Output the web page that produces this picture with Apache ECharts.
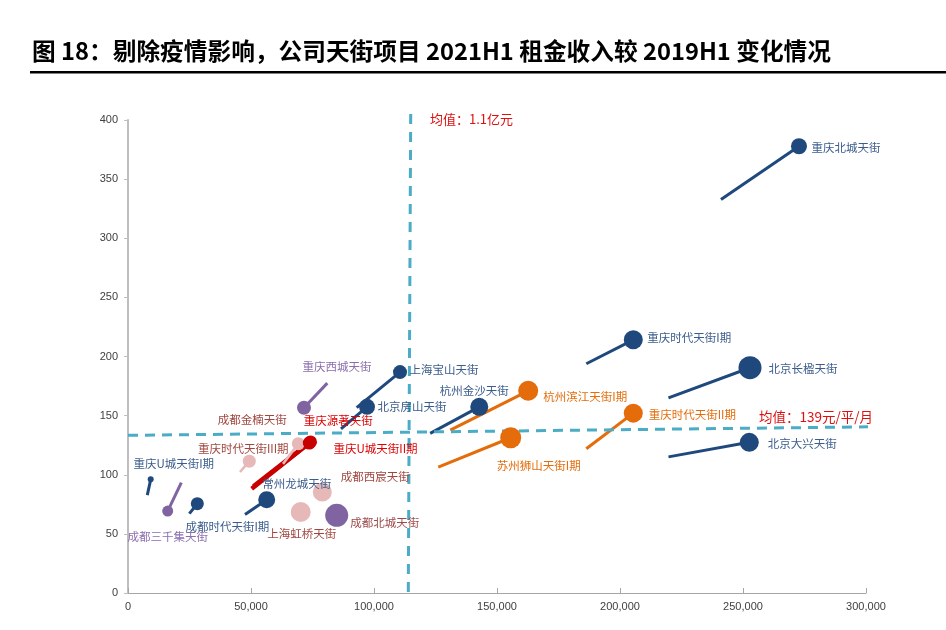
<!DOCTYPE html>
<html><head><meta charset="utf-8">
<script src="https://cdn.jsdelivr.net/npm/echarts/dist/echarts.min.js"></script>
<style>html,body{margin:0;padding:0;background:#fff}#c{width:946px;height:630px}</style>
</head><body><div id="c"></div>
<script>
// ---------- data ----------
const titleText = '图 18：剔除疫情影响，公司天街项目 2021H1 租金收入较 2019H1 变化情况';
const projects = ['重庆北城天街','重庆时代天街I期','北京长楹天街','北京大兴天街','重庆时代天街II期','杭州滨江天街I期','苏州狮山天街I期','杭州金沙天街','上海宝山天街','北京房山天街','重庆西城天街','重庆源著天街','重庆U城天街II期','成都金楠天街','重庆时代天街III期','重庆U城天街I期','成都三千集天街','成都时代天街I期','常州龙城天街','成都西宸天街','上海虹桥天街','成都北城天街'];
const group    = ['blue','blue','blue','blue','orange','orange','orange','blue','blue','blue','purple','red','red','pink','pink','blue','purple','blue','blue','pink','pink','purple'];
// 2021H1 (bubble end)
const rev2021  = [272760,205400,252850,252560,205400,162680,155570,142800,110570,97150,71540,73700,74190,69230,49310,9230,16140,28180,56380,78980,70200,84840];
const rent2021 = [377.8,214.1,190.5,127.4,152.1,171.0,131.3,157.4,186.8,157.4,156.7,126.8,127.8,126.3,111.5,96.1,69.3,75.5,78.9,85.4,68.5,65.7];
// 2019H1 (line tail)
const rev2019  = [241050,186300,219700,219700,186300,131000,126130,122840,92960,86580,81010,50280,51020,63010,45530,7850,21670,24930,47560,null,null,null];
const rent2019 = [332.7,193.9,165.0,115.1,122.0,137.7,106.5,135.0,156.7,138.8,177.5,88.2,90.2,109.2,102.3,82.8,93.3,67.1,66.3,null,null,null];
// bubble scale value
const scaleVal = [16,19,23,19,19,20,21,18,14,16,14,13,13,13,13,6,11,13,17,19,20,23];
// draw order of bubbles (pink behind red in the cluster)
const bubbleOrder = [0,1,2,3,4,5,6,7,8,9,10,13,11,12,14,15,16,17,18,19,20,21];
// mean reference lines
const meanRevX = [114920,113940], meanRevY = [405,0];
const meanRentX = [0,309350],     meanRentY = [133.3,140.7];
const meanRevText = '均值：1.1亿元';
const meanRentText = '均值：139元/平/月';

// ---------- style ----------
const groupStyle = {
  blue:   {fill:'#1f497d', line:'#1f497d', label:'#3b5c8c', w:3},
  orange: {fill:'#e46c0a', line:'#e46c0a', label:'#e46c0a', w:3},
  purple: {fill:'#8064a2', line:'#8064a2', label:'#8a6eae', w:3},
  pink:   {fill:'#e6b9b8', line:'#e6b9b8', label:'#a0463f', w:2.5},
  red:    {fill:'#c80000', line:'#c80000', label:'#dd0000', w:4.5}
};
const labelColorOverride = {'成都北城天街':'#9c4a4a'};
const labelOffset = {
  '重庆北城天街':[47,1],'重庆时代天街I期':[56,-2],'北京长楹天街':[53,1],'北京大兴天街':[53,1],
  '重庆时代天街II期':[59,1],'杭州滨江天街I期':[57,6],'苏州狮山天街I期':[28,28],'杭州金沙天街':[-5,-16],
  '上海宝山天街':[44,-2],'北京房山天街':[45,0],'重庆西城天街':[33,-41],'成都金楠天街':[-46,-24],
  '重庆源著天街':[29,-22],'重庆U城天街II期':[65,7],'重庆时代天街III期':[-6,-13],'重庆U城天街I期':[23,-16],
  '成都三千集天街':[0,26],'成都时代天街I期':[30,23],'常州龙城天街':[30,-16],'成都西宸天街':[53,-15],
  '上海虹桥天街':[1,22],'成都北城天街':[48,7]
};
const cjk = '"Noto Sans CJK SC", "Microsoft YaHei", sans-serif';

const lineData = [];
projects.forEach((n,i)=>{
  if (rev2019[i] == null) return;
  const s = groupStyle[group[i]];
  lineData.push({coords:[[rev2019[i],rent2019[i]],[rev2021[i],rent2021[i]]], lineStyle:{color:s.line,width:s.w,opacity:1}});
});
const bubbleData = bubbleOrder.map(i=>{
  const n = projects[i];
  const s = groupStyle[group[i]];
  const d = scaleVal[i], o = labelOffset[n];
  return {
    name:n, value:[rev2021[i],rent2021[i],scaleVal[i]],
    symbolSize: d,
    itemStyle:{color:s.fill, opacity:1},
    label:{show:true, position:[d/2+o[0], d/2+o[1]], align:'center', verticalAlign:'middle', formatter:'{b}',
      color: labelColorOverride[n] || s.label, fontSize:11.5, fontFamily:cjk}
  };
});

const chart = echarts.init(document.getElementById('c'), null, {renderer:'canvas'});
chart.setOption({
  animation:false,
  backgroundColor:'#fff',
  grid:{left:128, right:80, top:120, bottom:37, containLabel:false},
  xAxis:{type:'value', min:0, max:300000, interval:50000,
    axisLine:{show:true, lineStyle:{color:'#a6a6a6', width:1}},
    axisTick:{show:true, inside:true, length:5, lineStyle:{color:'#a6a6a6'}},
    splitLine:{show:false},
    axisLabel:{fontSize:11, color:'#404040', margin:8, fontFamily:'"Liberation Sans", Arial, sans-serif',
      formatter:v=>v.toLocaleString('en-US')}},
  yAxis:{type:'value', min:0, max:400, interval:50,
    axisLine:{show:true, lineStyle:{color:'#bfbfbf', width:2}},
    axisTick:{show:true, inside:false, length:4, lineStyle:{color:'#bfbfbf'}},
    splitLine:{show:false},
    axisLabel:{fontSize:11, color:'#404040', margin:10, fontFamily:'"Liberation Sans", Arial, sans-serif'}},
  series:[
    {type:'lines', coordinateSystem:'cartesian2d', polyline:false, silent:true, data:lineData, z:2,
      lineStyle:{opacity:1}},
    {type:'line', data:meanRevX.map((x,i)=>[x,meanRevY[i]]), showSymbol:false, clip:false, silent:true, z:3,
      lineStyle:{color:'#4bacc6', width:3, type:[10,8]}},
    {type:'line', data:meanRentX.map((x,i)=>[x,meanRentY[i]]), showSymbol:false, clip:false, silent:true, z:3,
      lineStyle:{color:'#4bacc6', width:3, type:[10,7]}},
    {type:'scatter', data:bubbleData, z:4, labelLayout:{hideOverlap:false}}
  ],
  graphic:[
    {type:'text', left:32, top:39, style:{text:titleText, font:'bold 23.7px '+cjk, fill:'#000'}},
    {type:'rect', shape:{x:30, y:71, width:916, height:2.5}, style:{fill:'#000'}},
    {type:'text', left:430, top:113, style:{text:meanRevText, font:'13px '+cjk, fill:'#dd1111'}},
    {type:'text', left:759, top:410, style:{text:meanRentText, font:'13.5px '+cjk, fill:'#dd1111'}}
  ]
});
</script>
</body></html>
